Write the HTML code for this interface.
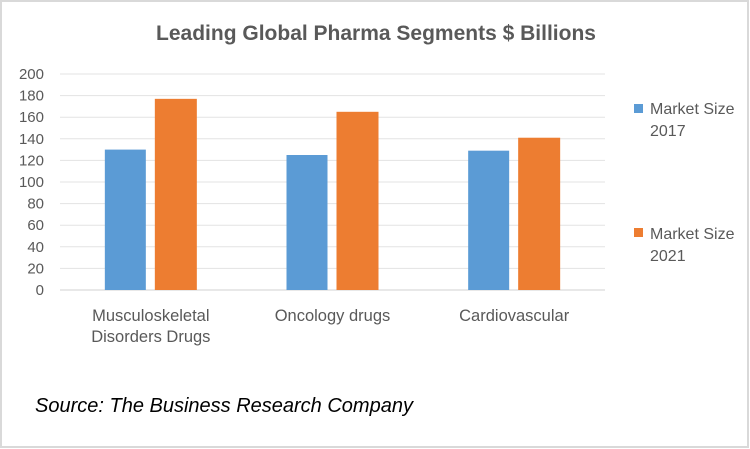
<!DOCTYPE html>
<html><head><meta charset="utf-8"><style>
body{margin:0;background:#fff;}
#wrap{position:relative;width:750px;height:449px;overflow:hidden;background:#fff;font-family:"Liberation Sans",sans-serif;}
</style></head><body>
<div id="wrap">
<svg id="chart" width="750" height="449">
<rect x="1" y="1" width="747" height="446" fill="#fff" stroke="#d9d9d9" stroke-width="2"/>
<text x="376" y="40" text-anchor="middle" font-size="21" font-weight="bold" fill="#595959">Leading Global Pharma Segments $ Billions</text>
<g id="grid"></g><g id="bars"></g><g id="labels"></g>
<rect x="634" y="104" width="9" height="9" fill="#5b9bd5"/>
<text x="650" y="114" font-size="16" fill="#595959"><tspan x="650">Market Size</tspan><tspan x="650" dy="22">2017</tspan></text>
<rect x="634" y="228" width="9" height="9" fill="#ed7d31"/>
<text x="650" y="239" font-size="16" fill="#595959"><tspan x="650">Market Size</tspan><tspan x="650" dy="22">2021</tspan></text>
<text x="35" y="412" font-size="20" font-style="italic" fill="#000">Source: The Business Research Company</text>
</svg>
</div>
<script>
const categories=[["Musculoskeletal","Disorders Drugs"],["Oncology drugs"],["Cardiovascular"]];
const values2017=[130,125,129];
const values2021=[177,165,141];
const ticks=[0,20,40,60,80,100,120,140,160,180,200];
const NS="http://www.w3.org/2000/svg";
const x0=60,x1=605,yBase=290,yTop=74,maxV=200;
const y=v=>yBase-(v/maxV)*(yBase-yTop);
const bandW=(x1-x0)/categories.length;
function mk(tag,attrs,parent){const e=document.createElementNS(NS,tag);for(const k in attrs)e.setAttribute(k,attrs[k]);parent.appendChild(e);return e;}
const grid=document.getElementById('grid'),bars=document.getElementById('bars'),labels=document.getElementById('labels');
ticks.forEach(t=>{
 const l=mk('line',{x1:x0,x2:x1,y1:y(t),y2:y(t),stroke:t===0?'#d0d0d0':'#e3e3e3','stroke-width':1},grid);
 
 
 const tx=mk('text',{x:44,y:y(t)+5,'text-anchor':'end','font-size':15,fill:'#595959'},grid);
 tx.textContent=t;
 
 
});
categories.forEach((c,i)=>{
 const cx=x0+bandW*(i+0.5);
 const b1=mk('rect',{x:cx-46,y:y(values2017[i]),width:41,height:yBase-y(values2017[i]),fill:'#5b9bd5'},bars);
 
 
 const b2=mk('rect',{x:cx+4,y:y(values2021[i]),width:42,height:yBase-y(values2021[i]),fill:'#ed7d31'},bars);
 
 
 const t=mk('text',{x:cx,y:321,'text-anchor':'middle','font-size':16.5,fill:'#595959'},labels);
 
 
 c.forEach((line,j)=>{const s=mk('tspan',{x:cx,dy:j?21:0},t);s.textContent=line;});
});
</script>
</body></html>
